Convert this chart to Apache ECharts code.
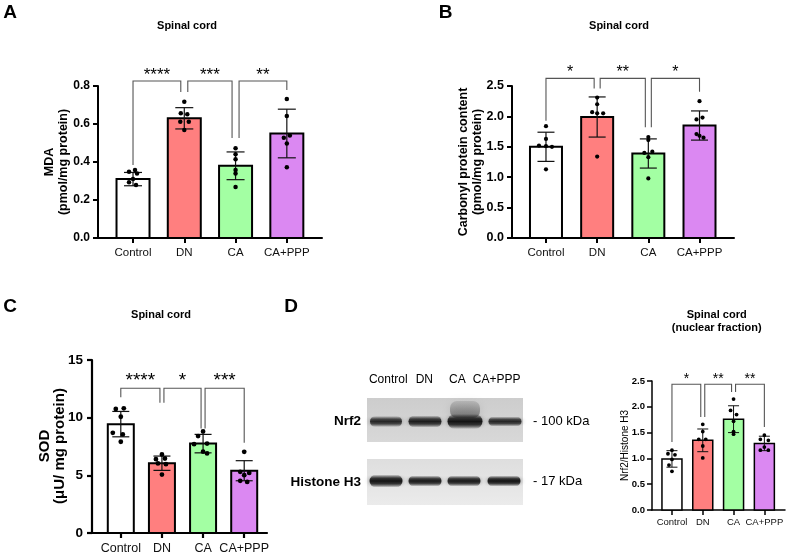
<!DOCTYPE html>
<html><head><meta charset="utf-8">
<script src="https://cdn.jsdelivr.net/npm/echarts@6/dist/echarts.min.js"></script>
<style>html,body{margin:0;padding:0;background:#fff}#c{width:788px;height:556px}</style>
</head><body><div id="c"></div>
<script>
// ---------------- DATA ----------------
const categories = ['Control', 'DN', 'CA', 'CA+PPP'];

// A: MDA (pmol/mg protein)
const mdaMean = [0.31, 0.63, 0.38, 0.55];
const mdaSD = [0.035, 0.056, 0.073, 0.128];
const mdaPoints = [
  [0.358, 0.349, 0.340, 0.311, 0.293, 0.279],
  [0.717, 0.656, 0.651, 0.612, 0.612, 0.568],
  [0.472, 0.441, 0.414, 0.358, 0.340, 0.268],
  [0.732, 0.642, 0.540, 0.528, 0.498, 0.372]
];
const mdaTicks = [0, 0.2, 0.4, 0.6, 0.8];
const mdaStars = ['****', '***', '**'];
const mdaBracketLevel = 0.826;
const mdaBracketTips = [0.384, 0.768, 0.526, 0.779];

// B: Carbonyl protein content
const carbMean = [1.50, 1.99, 1.39, 1.85];
const carbSD = [0.24, 0.33, 0.24, 0.24];
const carbPoints = [
  [1.84, 1.63, 1.52, 1.51, 1.50, 1.13],
  [2.31, 2.20, 2.07, 2.05, 2.05, 1.34],
  [1.66, 1.61, 1.42, 1.40, 1.33, 0.98],
  [2.25, 1.98, 1.95, 1.71, 1.68, 1.65]
];
const carbTicks = [0, 0.5, 1.0, 1.5, 2.0, 2.5];
const carbStars = ['*', '**', '*'];
const carbBracketLevel = 2.626;
const carbBracketTips = [1.93, 2.46, 1.82, 2.405];

// C: SOD
const sodMean = [9.44, 6.05, 7.75, 5.40];
const sodSD = [1.10, 0.62, 0.80, 0.87];
const sodPoints = [
  [10.75, 10.81, 10.08, 8.69, 8.55, 7.91],
  [6.81, 6.46, 6.40, 6.03, 5.97, 5.07],
  [8.80, 8.40, 7.75, 7.70, 7.05, 6.90],
  [7.04, 5.30, 5.21, 5.01, 4.52, 4.43]
];
const sodTicks = [0, 5, 10, 15];
const sodStars = ['****', '*', '***'];
const sodBracketLevel = 12.55;
const sodBracketTips = [11.76, 11.29, 9.05, 7.82];

// D: Nrf2/Histone H3
const nrfMean = [0.99, 1.35, 1.76, 1.29];
const nrfSD = [0.16, 0.22, 0.26, 0.14];
const nrfPoints = [
  [1.16, 1.09, 1.07, 0.98, 0.87, 0.75],
  [1.66, 1.52, 1.37, 1.37, 1.24, 1.01],
  [2.15, 1.93, 1.85, 1.72, 1.52, 1.47],
  [1.45, 1.37, 1.35, 1.22, 1.16, 1.16]
];
const nrfTicks = [0, 0.5, 1.0, 1.5, 2.0, 2.5];
const nrfStars = ['*', '**', '**'];
const nrfBracketLevel = 2.436;
const nrfBracketTips = [1.32, 1.80, 2.287, 1.61];

const comparisons = [[0, 1], [1, 2], [2, 3]];
const blotLanes = ['Control', 'DN', 'CA', 'CA+PPP'];

// ---------------- STYLE ----------------
const FONT = '"Liberation Sans", Arial, Helvetica, sans-serif';
const barColors = ['#FFFFFF', '#FF7F7F', '#A3FFA3', '#DB88F2'];

const panels = [
  { left: 98, top: 86, width: 224, height: 152, xMin: -0.683, xMax: 3.686,
    mean: mdaMean, sd: mdaSD, pts: mdaPoints, ticks: mdaTicks, dec: 1,
    stars: mdaStars, level: mdaBracketLevel, tips: mdaBracketTips,
    barW: 33, barLW: 2, capW: 18, errLW: 1.2, dot: 4.5, axisW: 2,
    yFont: 12, xFont: 11.5, yMargin: 8, xMargin: 9, starFont: 17, starGap: 5.6, legSplit: 3.5,
    jitter: [[2,-4,4,0,-4,3],[0,-3.5,3,-4,4.5,0],[0,0,0,0,0,0],[0,0,3,-3,0,0]] },
  { left: 512, top: 86, width: 222, height: 152, xMin: -0.664, xMax: 3.674,
    mean: carbMean, sd: carbSD, pts: carbPoints, ticks: carbTicks, dec: 1,
    stars: carbStars, level: carbBracketLevel, tips: carbBracketTips,
    barW: 32, barLW: 2, capW: 17, errLW: 1.2, dot: 4.2, axisW: 2,
    yFont: 12.5, xFont: 11.5, yMargin: 8, xMargin: 9, starFont: 16, starGap: 6, legSplit: 3,
    jitter: [[0,0,-7,0,6,0],[0,0,-5,0,6,0],[0,0,4,-4,0,0],[0,3,-3,-3,0,4]] },
  { left: 92, top: 360, width: 175, height: 173, xMin: -0.70, xMax: 3.554,
    mean: sodMean, sd: sodSD, pts: sodPoints, ticks: sodTicks, dec: 0,
    stars: sodStars, level: sodBracketLevel, tips: sodBracketTips,
    barW: 26, barLW: 2, capW: 17, errLW: 1.2, dot: 4.8, axisW: 2.2,
    yFont: 13.5, xFont: 12.5, yMargin: 9, xMargin: 9, starFont: 19, starGap: 7, legSplit: 2,
    jitter: [[-5,3,0,-8,2,0],[0,3,-6,-4,4,0],[0,-5,4,-9,0,4],[0,-4,5,0,-4,3]] },
  { left: 652, top: 381, width: 133, height: 129, xMin: -0.648, xMax: 3.67,
    mean: nrfMean, sd: nrfSD, pts: nrfPoints, ticks: nrfTicks, dec: 1,
    stars: nrfStars, level: nrfBracketLevel, tips: nrfBracketTips,
    barW: 20, barLW: 1.5, capW: 11, errLW: 1, dot: 3.8, axisW: 1.5,
    yFont: 9.5, xFont: 9.5, yMargin: 7, xMargin: 7, starFont: 14, starGap: 5.5, legSplit: 2,
    jitter: [[0,-4,3,0,-3,0],[0,0,-4,3,0,0],[0,-3,3,0,0,0],[0,-4,4,0,-4,4]] }
];

const grids = [], xAxes = [], yAxes = [], series = [];

panels.forEach((p, idx) => {
  grids.push({ left: p.left, top: p.top, width: p.width, height: p.height, containLabel: false, outerBoundsMode: 'none' });
  const lineStyle = { color: '#000', width: p.axisW };
  xAxes.push({
    gridIndex: idx, type: 'value', min: p.xMin, max: p.xMax,
    axisLine: { show: true, onZero: false, lineStyle },
    axisTick: { show: true, customValues: [0, 1, 2, 3], length: 5, inside: false, lineStyle },
    axisLabel: { show: true, customValues: [0, 1, 2, 3], formatter: v => categories[Math.round(v)],
      fontSize: p.xFont, color: '#111', fontFamily: FONT, margin: p.xMargin },
    splitLine: { show: false }
  });
  yAxes.push({
    gridIndex: idx, type: 'value', min: 0, max: p.ticks[p.ticks.length - 1],
    axisLine: { show: true, onZero: false, lineStyle },
    axisTick: { show: true, customValues: p.ticks, length: 5, inside: false, lineStyle },
    axisLabel: { show: true, customValues: p.ticks, formatter: v => Number(v).toFixed(p.dec),
      fontSize: p.yFont, fontWeight: 'bold', color: '#000', fontFamily: FONT, margin: p.yMargin },
    splitLine: { show: false }
  });

  // bars
  series.push({
    type: 'custom', xAxisIndex: idx, yAxisIndex: idx, z: 2, clip: false,
    data: p.mean.map((v, i) => [i, v]),
    renderItem: (params, api) => {
      const i = api.value(0), v = api.value(1);
      const top = api.coord([i, v]), base = api.coord([i, 0]);
      return { type: 'rect',
        shape: { x: top[0] - p.barW / 2, y: top[1], width: p.barW, height: base[1] - top[1] },
        style: { fill: barColors[i], stroke: '#000', lineWidth: p.barLW } };
    }
  });
  // error bars (mean ± SD)
  series.push({
    type: 'custom', xAxisIndex: idx, yAxisIndex: idx, z: 4, clip: false,
    data: p.mean.map((v, i) => [i, v, p.sd[i]]),
    renderItem: (params, api) => {
      const i = api.value(0), m = api.value(1), s = api.value(2);
      const hi = api.coord([i, m + s]), lo = api.coord([i, m - s]);
      const x = hi[0], c = p.capW / 2;
      const st = { stroke: '#111', lineWidth: p.errLW };
      return { type: 'group', children: [
        { type: 'line', shape: { x1: x, y1: hi[1], x2: x, y2: lo[1] }, style: st },
        { type: 'line', shape: { x1: x - c, y1: hi[1], x2: x + c, y2: hi[1] }, style: st },
        { type: 'line', shape: { x1: x - c, y1: lo[1], x2: x + c, y2: lo[1] }, style: st }
      ] };
    }
  });
  // individual points
  const pd = [];
  p.pts.forEach((arr, i) => arr.forEach((v, k) => pd.push([i, v, k])));
  series.push({
    type: 'custom', xAxisIndex: idx, yAxisIndex: idx, z: 5, clip: false,
    data: pd,
    renderItem: (params, api) => {
      const i = api.value(0), v = api.value(1), k = api.value(2);
      const pt = api.coord([i, v]);
      return { type: 'circle', shape: { cx: pt[0] + p.jitter[i][k], cy: pt[1], r: p.dot / 2 },
        style: { fill: '#000' } };
    }
  });
  // significance brackets
  series.push({
    type: 'custom', xAxisIndex: idx, yAxisIndex: idx, z: 6, clip: false,
    data: comparisons.map((c, k) => [c[0], c[1], k]),
    renderItem: (params, api) => {
      const a = api.value(0), b = api.value(1), k = api.value(2);
      const pa = api.coord([a, p.tips[a]]), pb = api.coord([b, p.tips[b]]);
      const lv = api.coord([a, p.level])[1];
      const xa = pa[0] + (a > 0 ? p.legSplit : 0);
      const xb = pb[0] - (b < 3 ? p.legSplit : 0);
      return { type: 'group', children: [
        { type: 'polyline', shape: { points: [[xa, pa[1]], [xa, lv], [xb, lv], [xb, pb[1]]] },
          style: { stroke: '#555', lineWidth: 1.1, fill: null } },
        { type: 'text', x: (xa + xb) / 2, y: lv - p.starGap,
          style: { text: p.stars[k], fontSize: p.starFont, fontFamily: FONT, fill: '#000',
            align: 'center', verticalAlign: 'middle', textAlign: 'center', textVerticalAlign: 'middle' } }
      ] };
    }
  });
});

// ---------------- TEXT & BLOT (graphic) ----------------
function txt(x, y, text, size, weight, align, rot, lh) {
  const o = { type: 'text', x, y, z: 10,
    style: { text, fontSize: size, fontWeight: weight || 'normal', fontFamily: FONT, fill: '#000',
      align: align || 'center', verticalAlign: 'middle', textAlign: align || 'center', textVerticalAlign: 'middle',
      lineHeight: lh || Math.round(size * 1.15) } };
  if (rot) o.rotation = rot;
  return o;
}
const R = Math.PI / 2;
const graphics = [
  txt(10, 13, 'A', 19, 'bold'), txt(445.5, 12.5, 'B', 19, 'bold'),
  txt(10, 306.5, 'C', 19, 'bold'), txt(291, 306.5, 'D', 19, 'bold'),
  txt(187, 26, 'Spinal cord', 11, 'bold'), txt(619, 26, 'Spinal cord', 11, 'bold'),
  txt(161, 315, 'Spinal cord', 11, 'bold'),
  txt(716.7, 321.5, 'Spinal cord\n(nuclear fraction)', 11, 'bold', 'center', 0, 13),
  txt(56.5, 162, 'MDA\n(pmol/mg protein)', 12.5, 'bold', 'center', R, 13.5),
  txt(471, 162, 'Carbonyl protein content\n(pmol/mg protein)', 12.5, 'bold', 'center', R, 14),
  txt(52.5, 446, 'SOD\n(μU/ mg protein)', 15, 'bold', 'center', R, 15.5),
  txt(625, 445.5, 'Nrf2/Histone H3', 10, 'normal', 'center', R)
];

function vgrad(c0, c1) {
  return { type: 'linear', x: 0, y: 0, x2: 0, y2: 1, colorStops: [{ offset: 0, color: c0 }, { offset: 1, color: c1 }] };
}
function bandFill(alpha) {
  return { type: 'linear', x: 0, y: 0, x2: 0, y2: 1, colorStops: [
    { offset: 0, color: 'rgba(30,30,30,0)' },
    { offset: 0.3, color: 'rgba(30,30,30,' + (alpha * 0.85) + ')' },
    { offset: 0.5, color: 'rgba(20,20,20,' + alpha + ')' },
    { offset: 0.7, color: 'rgba(30,30,30,' + (alpha * 0.85) + ')' },
    { offset: 1, color: 'rgba(30,30,30,0)' }] };
}
// blot backgrounds
graphics.push({ type: 'rect', z: 1, shape: { x: 367, y: 398, width: 156, height: 44 },
  style: { fill: vgrad('#cdcdcd', '#d8d8d8') } });
graphics.push({ type: 'rect', z: 1, shape: { x: 367, y: 459, width: 156, height: 46 },
  style: { fill: vgrad('#dedede', '#ebebeb') } });
// CA smear above band
graphics.push({ type: 'rect', z: 2, shape: { x: 450, y: 401, width: 30, height: 17, r: 7 },
  style: { fill: vgrad('rgba(90,90,90,0.18)', 'rgba(50,50,50,0.55)'),
    shadowBlur: 9, shadowColor: 'rgba(80,80,80,0.45)' } });
const nrfBands = [[386, 32, 11, 0.85], [425, 33, 12, 0.92], [465, 35, 15, 1.0], [505, 33, 10, 0.85]];
nrfBands.forEach(b => graphics.push({ type: 'rect', z: 3,
  shape: { x: b[0] - b[1] / 2, y: 421.5 - b[2] / 2, width: b[1], height: b[2], r: b[2] / 2 },
  style: { fill: bandFill(b[3]), shadowBlur: 5, shadowColor: 'rgba(50,50,50,0.5)' } }));
const h3Bands = [[386, 33, 13, 1.0], [425, 33, 11, 0.95], [464, 33, 11, 0.95], [504, 33, 11, 1.0]];
h3Bands.forEach(b => graphics.push({ type: 'rect', z: 3,
  shape: { x: b[0] - b[1] / 2, y: 481 - b[2] / 2, width: b[1], height: b[2], r: b[2] / 2 },
  style: { fill: bandFill(b[3]), shadowBlur: 5, shadowColor: 'rgba(50,50,50,0.5)' } }));
const laneX = [388.3, 424.3, 457.3, 496.7];
blotLanes.forEach((l, i) => graphics.push(txt(laneX[i], 380, l, 12, 'normal')));
graphics.push(txt(361, 421.7, 'Nrf2', 13.5, 'bold', 'right'));
graphics.push(txt(361, 482, 'Histone H3', 13.5, 'bold', 'right'));
graphics.push(txt(533, 421, '- 100 kDa', 13, 'normal', 'left'));
graphics.push(txt(533, 481, '- 17 kDa', 13, 'normal', 'left'));

const chart = echarts.init(document.getElementById('c'), null, { renderer: 'canvas', width: 788, height: 556 });
chart.setOption({
  animation: false,
  backgroundColor: '#ffffff',
  textStyle: { fontFamily: FONT },
  grid: grids, xAxis: xAxes, yAxis: yAxes, series,
  graphic: { elements: graphics }
});
</script></body></html>
